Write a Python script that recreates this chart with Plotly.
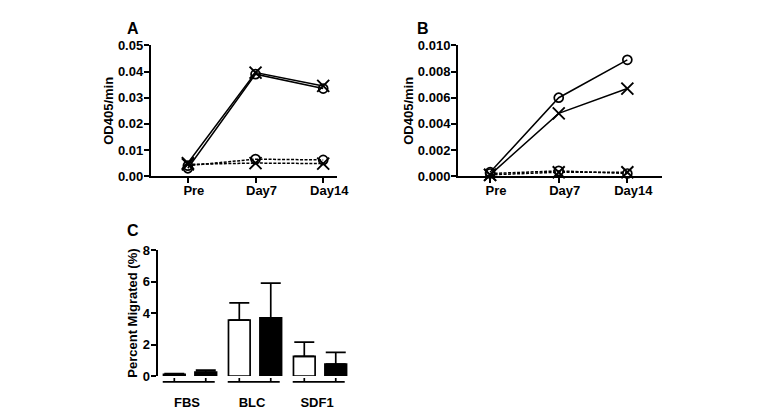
import plotly.graph_objects as go

W, H = 780, 410

days = ["Pre", "Day7", "Day14"]

# Panel A
a_solid_x = [0.0050, 0.0396, 0.0345]
a_solid_o = [0.0030, 0.0390, 0.0335]
a_dash_o = [0.0040, 0.0065, 0.0062]
a_dash_x = [0.0045, 0.0050, 0.0048]

# Panel B
b_solid_o = [0.0003, 0.0060, 0.0089]
b_solid_x = [0.0001, 0.0048, 0.0067]
b_dash_o = [0.0002, 0.0004, 0.0002]
b_dash_x = [0.0001, 0.0003, 0.0003]

# Panel C
groups = ["FBS", "BLC", "SDF1"]
c_white = [0.10, 3.55, 1.25]
c_white_err = [0.05, 1.10, 0.90]
c_black = [0.25, 3.70, 0.75]
c_black_err = [0.12, 2.20, 0.75]

FONT = "Liberation Sans, Arial, sans-serif"
xpos = list(range(len(days)))

fig = go.Figure()

def line(xa, ya, y, sym, dash):
    if sym == "o":
        marker = dict(symbol="circle-open", size=9, color="black", line=dict(width=1.7, color="black"))
    else:
        marker = dict(symbol="x-thin-open", size=12, color="black", line=dict(width=1.9, color="black"))
    fig.add_trace(go.Scatter(
        x=xpos, y=y, xaxis=xa, yaxis=ya, mode="lines+markers",
        line=dict(color="black", width=1.5, dash=dash),
        marker=marker, showlegend=False, cliponaxis=False))

line("x", "y", a_dash_o, "o", "3px,1.5px")
line("x", "y", a_dash_x, "x", "3px,1.5px")
line("x", "y", a_solid_o, "o", "solid")
line("x", "y", a_solid_x, "x", "solid")

line("x2", "y2", b_dash_o, "o", "3px,1.5px")
line("x2", "y2", b_dash_x, "x", "3px,1.5px")
line("x2", "y2", b_solid_o, "o", "solid")
line("x2", "y2", b_solid_x, "x", "solid")

gx = list(range(len(groups)))
BW = 0.333
OFF_W = -0.242 - BW / 2
OFF_B = 0.242 - BW / 2
fig.add_trace(go.Bar(
    x=gx, y=c_white, xaxis="x3", yaxis="y3", width=BW, offset=OFF_W,
    marker=dict(color="white", line=dict(color="black", width=1.7)),
    error_y=dict(type="data", symmetric=False, array=c_white_err, arrayminus=[0]*3,
                 color="black", thickness=1.7, width=10),
    showlegend=False))
fig.add_trace(go.Bar(
    x=gx, y=c_black, xaxis="x3", yaxis="y3", width=BW, offset=OFF_B,
    marker=dict(color="black", line=dict(color="black", width=1.7)),
    error_y=dict(type="data", symmetric=False, array=c_black_err, arrayminus=[0]*3,
                 color="black", thickness=1.7, width=10),
    showlegend=False))

tickfont = dict(family=FONT, size=13, color="black", weight="bold")
titlefont = dict(family=FONT, size=13, color="black", weight="bold")

def px(v):
    return v / W

def py(v):
    return 1 - v / H

yaxis_common = dict(showline=True, linecolor="black", linewidth=1.7, ticks="outside",
                    ticklen=5, tickwidth=1.7, tickcolor="black", showgrid=False,
                    zeroline=False, tickfont=tickfont, ticklabelstandoff=-2)
xaxis_common = dict(showline=True, linecolor="black", linewidth=1.7, ticks="outside",
                    ticklen=5, tickwidth=1.7, tickcolor="black", showgrid=False,
                    zeroline=False, tickfont=tickfont, tickvals=xpos, ticktext=days,
                    ticklabelstandoff=-4, ticklabelshift=6)

fig.update_layout(
    width=W, height=H, margin=dict(l=0, r=0, t=0, b=0),
    paper_bgcolor="white", plot_bgcolor="white",
    barmode="overlay",
    xaxis=dict(domain=[px(153), px(342)], range=[-0.55, 2.2], anchor="y", **xaxis_common),
    yaxis=dict(domain=[py(176), py(40)], range=[0, 0.05], dtick=0.01, tickformat=".2f",
               anchor="x", title=dict(text="OD405/min", font=titlefont, standoff=1), **yaxis_common),
    xaxis2=dict(domain=[px(465), px(672)], range=[-0.47, 2.5], anchor="y2", **xaxis_common),
    yaxis2=dict(domain=[py(176), py(40)], range=[0, 0.010], dtick=0.002, tickformat=".3f",
                anchor="x2", title=dict(text="OD405/min", font=titlefont, standoff=1), **yaxis_common),
    xaxis3=dict(domain=[px(160), px(360)], range=[-0.5, 2.53], anchor="y3", showline=False,
                showgrid=False, zeroline=False, ticks="", tickvals=gx, ticktext=groups,
                tickfont=tickfont, ticklabelstandoff=17, ticklabelshift=-3),
    yaxis3=dict(domain=[py(384), py(253)], range=[0, 8], dtick=2, anchor="x3",
                title=dict(text="Percent Migrated (%)", font=titlefont, standoff=2), **yaxis_common),
)

# panel letters
for txt, xx, yy in [("A", 127, 11), ("B", 430, 11), ("C", 127, 233)]:
    fig.add_annotation(text=txt, x=px(xx), y=py(yy), xref="paper", yref="paper",
                       showarrow=False, font=dict(family=FONT, size=16, color="black", weight="bold"))

# group underlines and tick marks for panel C
for i in gx:
    fig.add_shape(type="line", xref="x3", yref="paper", x0=i - 0.42, x1=i + 0.38,
                  y0=py(390), y1=py(390), line=dict(color="black", width=1.7))
    for off in (OFF_W + BW / 2, OFF_B + BW / 2):
        fig.add_shape(type="line", xref="x3", yref="paper", x0=i + off, x1=i + off,
                      y0=py(390), y1=py(386), line=dict(color="black", width=1.7))

fig.write_html("out.html", config={"displayModeBar": False},
               post_script="document.body.style.margin='0';")
